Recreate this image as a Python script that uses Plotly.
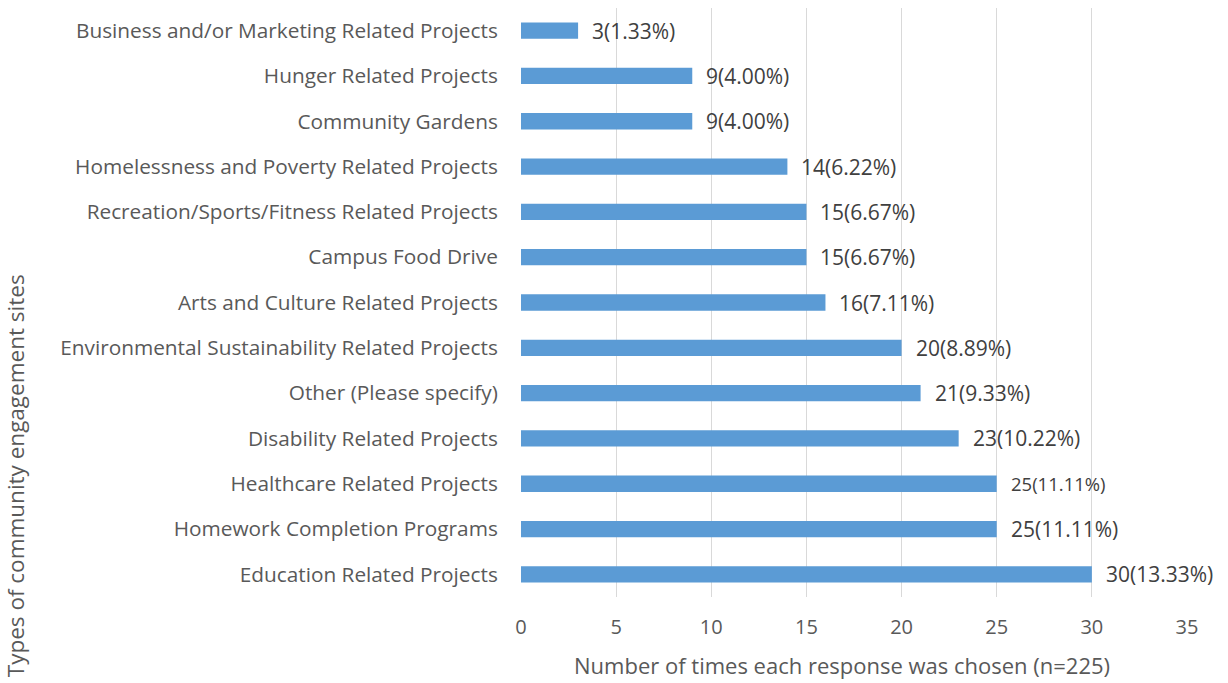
import plotly.graph_objects as go

categories = [
    "Education Related Projects",
    "Homework Completion Programs",
    "Healthcare Related Projects",
    "Disability Related Projects",
    "Other (Please specify)",
    "Environmental Sustainability Related Projects",
    "Arts and Culture Related Projects",
    "Campus Food Drive",
    "Recreation/Sports/Fitness Related Projects",
    "Homelessness and Poverty Related Projects",
    "Community Gardens",
    "Hunger Related Projects",
    "Business and/or Marketing Related Projects",
]
counts = [30, 25, 25, 23, 21, 20, 16, 15, 15, 14, 9, 9, 3]
percents = ["13.33%", "11.11%", "11.11%", "10.22%", "9.33%", "8.89%", "7.11%",
            "6.67%", "6.67%", "6.22%", "4.00%", "4.00%", "1.33%"]
label_sizes = [21, 21, 18.5, 21, 21, 21, 21, 21, 21, 21, 21, 21, 21]

FONT = "Open Sans"
fig = go.Figure()
fig.add_trace(go.Bar(
    y=categories, x=counts, orientation="h",
    marker=dict(color="#5B9BD5", line=dict(width=0)),
    width=0.36, hoverinfo="skip",
))

for c, v, p, s in zip(categories, counts, percents, label_sizes):
    fig.add_annotation(x=v, y=c, text=f"{v}({p})", showarrow=False,
                       xanchor="left", yanchor="middle", xshift=12,
                       font=dict(family=FONT, size=s, color="#404040"))

fig.add_annotation(xref="paper", yref="paper", x=0.482, y=-0.115,
                   text="Number of times each response was chosen (n=225)",
                   showarrow=False, xanchor="center", yanchor="middle",
                   font=dict(family=FONT, size=22, color="#595959"))
fig.add_annotation(xref="paper", yref="paper", x=(15 - 521) / 666, y=0.205,
                   text="Types of community engagement sites", textangle=-90,
                   showarrow=False, xanchor="center", yanchor="middle",
                   font=dict(family=FONT, size=22.5, color="#595959"))

fig.update_layout(
    width=1228, height=683,
    margin=dict(l=521, r=41, t=8, b=86),
    paper_bgcolor="white", plot_bgcolor="white",
    showlegend=False,
    font=dict(family=FONT, size=21, color="#595959"),
    xaxis=dict(range=[0, 35], dtick=5, showgrid=True, gridcolor="#D9D9D9",
               gridwidth=1.3, zeroline=False, showline=False,
               ticks="outside", ticklen=12, tickcolor="rgba(0,0,0,0)",
               automargin=False,
               tickfont=dict(family=FONT, size=20, color="#595959")),
    yaxis=dict(showgrid=False, zeroline=False, showline=False,
               ticks="outside", ticklen=18, tickcolor="rgba(0,0,0,0)",
               automargin=False,
               tickfont=dict(family=FONT, size=20.8, color="#595959")),
)

fig.write_html("out.html", config={"displayModeBar": False},
               post_script="document.body.style.margin='0';document.body.style.overflow='hidden';")
